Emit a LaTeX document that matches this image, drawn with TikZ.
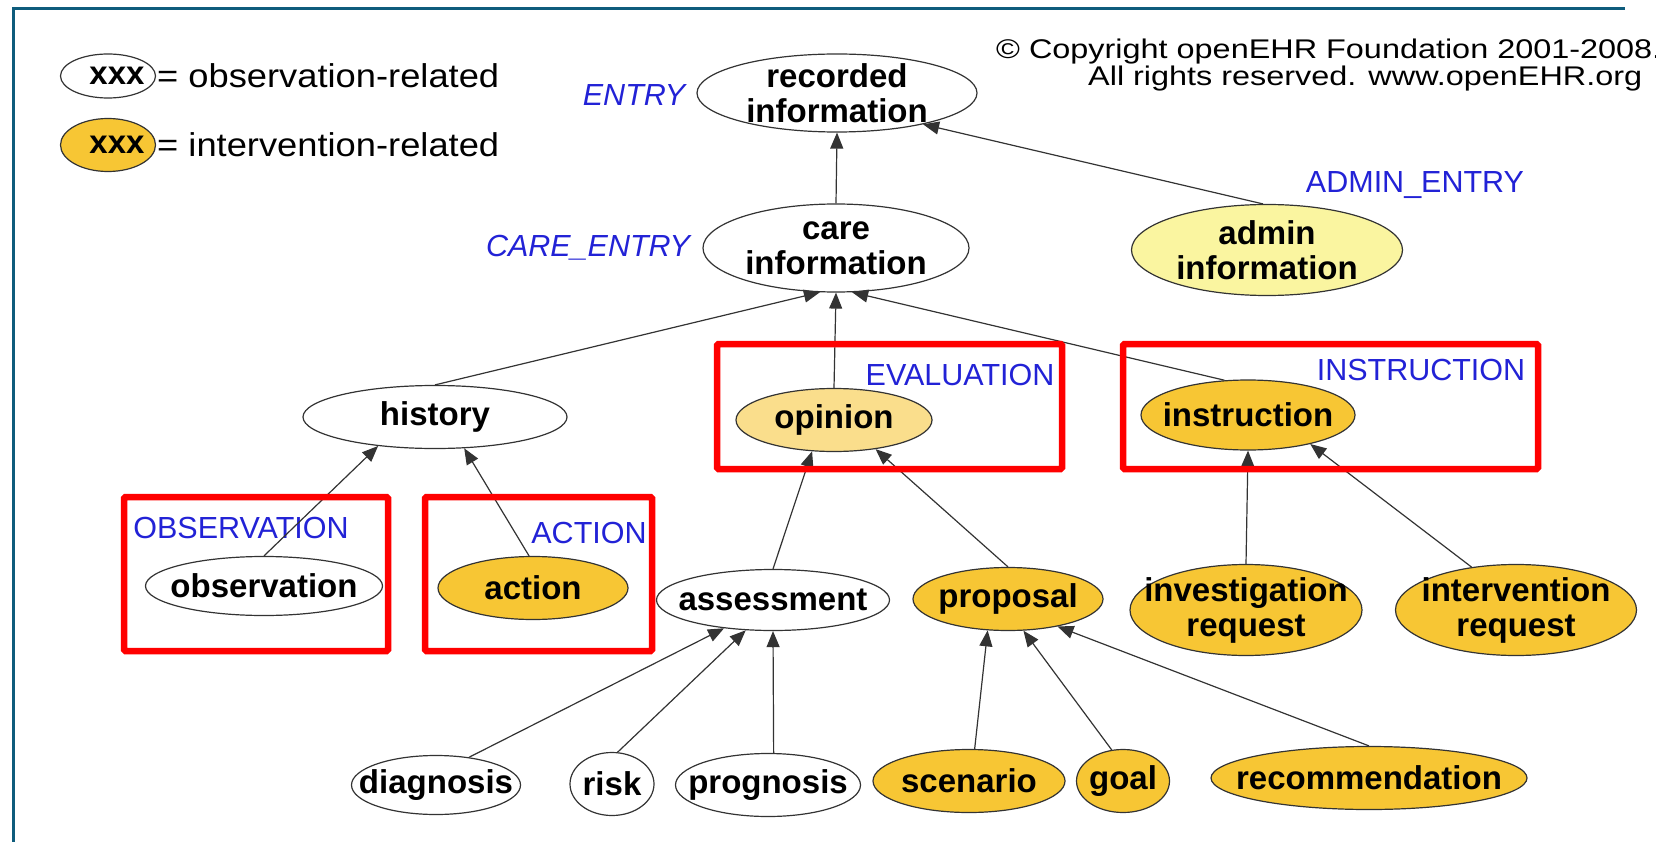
\documentclass[tikz,border=0pt]{standalone}
\usepackage{fontspec}
\setmainfont{Liberation Sans}
\newfontfamily\widesans{Liberation Sans}[FakeStretch=1.1]
\newfontfamily\widersans{Liberation Sans}[FakeStretch=1.2]
\usetikzlibrary{shapes.geometric, arrows.meta}
\definecolor{frameTeal}{RGB}{14, 92, 124}
\definecolor{ivGold}{RGB}{247, 198, 52}
\definecolor{opPeach}{RGB}{250, 222, 140}
\definecolor{adYellow}{RGB}{250, 245, 160}
\definecolor{rmBlue}{RGB}{34, 34, 214}
\definecolor{boxRed}{RGB}{255, 0, 0}

\newcommand{\ehrfont}{\bfseries\fontsize{33}{35}\selectfont}
\newcommand{\rmnamefont}{\fontsize{30.5}{33}\selectfont}
\newcommand{\legfont}{\widesans\fontsize{33}{36}\selectfont}
\newcommand{\copyfont}{\widersans\fontsize{27}{30}\selectfont}

\begin{document}
\begin{tikzpicture}[x=1pt, y=-1pt,
    cls/.style={ellipse, draw=black!80, line width=1.2pt, fill=white,
      inner xsep=-60pt, inner ysep=-15pt, align=center, font=\ehrfont},
    intv/.style={cls, fill=ivGold},
    sz/.style 2 args={minimum width=#1pt, minimum height=#2pt},
    rmname/.style={text=rmBlue, font=\rmnamefont, inner sep=0pt},
    isa/.style={draw=black!80, line width=1.2pt, -{Triangle[length=16pt, width=13pt]}},
    redbox/.style={draw=boxRed, line width=6.5pt, rounded corners=1.5pt}]
  \useasboundingbox (0,0) rectangle (1656,842);

  % frame
  \draw[frameTeal, line width=3pt] (13,842) -- (13,9) -- (1625,9);

  % legend
  \node[cls, sz={95}{44}] (legobs) at (108,76) {\hspace{18pt}xxx};
  \node[intv, sz={95}{53}] (legint) at (108,145) {\hspace{18pt}xxx};
  \node[anchor=west, inner sep=0pt, font=\legfont] (legobstxt) at (157,76) {= observation-related};
  \node[anchor=west, inner sep=0pt, font=\legfont] (leginttxt) at (157,145) {= intervention-related};

  % copyright
  \node[anchor=west, inner sep=0pt, font=\copyfont] (copy1) at (996,52)
    {\textcopyright{} Copyright openEHR Foundation 2001-2008.};
  \node[anchor=west, inner sep=0pt, font=\copyfont] (copy2) at (1088,79)
    {All rights reserved. www.openEHR.org};

  % top levels
  \node[cls, sz={280}{78}] (recorded) at (837,93) {recorded\\information};
  \node[cls, sz={266}{88}] (care) at (836,248) {care\\information};
  \node[cls, fill=adYellow, sz={271}{91}] (admin) at (1267,250) {admin\\information};
  \node[rmname, font=\rmnamefont\itshape] (entryname) at (634,95) {ENTRY};
  \node[rmname, font=\rmnamefont\itshape] (carename) at (588,248) {CARE\_ENTRY};
  \node[rmname] (adminname) at (1415,185) {ADMIN\_ENTRY};

  % middle level
  \node[cls, sz={264}{63}] (history) at (435,417) {history};
  \node[cls, fill=opPeach, sz={196}{63}] (opinion) at (834,420) {opinion};
  \node[intv, sz={214}{70}] (instruction) at (1248,415) {instruction};
  \node[rmname] (evalname) at (960,375) {EVALUATION};
  \node[rmname] (instrname) at (1421,370) {INSTRUCTION};

  \node[cls, sz={237}{59}] (observation) at (264,586) {observation};
  \node[intv, sz={190}{63}] (action) at (533,588) {action};
  \node[cls, sz={233}{61}] (assessment) at (773,600) {assessment};
  \node[intv, sz={190}{63}] (proposal) at (1008,599) {proposal};
  \node[intv, sz={232}{91}] (invreq) at (1246,610) {investigation\\request};
  \node[intv, sz={241}{91}] (intreq) at (1516,610) {intervention\\request};
  \node[rmname] (obsname) at (241,528) {OBSERVATION};
  \node[rmname] (actname) at (589,533) {ACTION};

  % bottom row
  \node[cls, sz={169}{59}] (diagnosis) at (436,785) {diagnosis};
  \node[cls, sz={84}{63}] (risk) at (612,784) {risk};
  \node[cls, sz={185}{63}] (prognosis) at (768,785) {prognosis};
  \node[intv, sz={192}{63}] (scenario) at (969,781) {scenario};
  \node[intv, sz={93}{63}] (goal) at (1123,781) {goal};
  \node[intv, sz={316}{63}] (recommendation) at (1369,778) {recommendation};

  % is-a links
  \foreach \from/\to in {care.north/recorded.270, admin.95/recorded.340,
      history.north/care.250, opinion.north/care.270, instruction.124/care.290,
      observation.north/history.207, action.97/history.313,
      assessment.north/opinion.235, proposal.north/opinion.325,
      invreq.north/instruction.270, intreq.136/instruction.335,
      diagnosis.40/assessment.210, risk.80/assessment.228, prognosis.80/assessment.270,
      scenario.80/proposal.237, goal.110/proposal.296, recommendation.north/proposal.331}
    \draw[isa] (\from) -- (\to);

  % highlighted reference-model classes
  \draw[redbox] (717,344) rectangle (1062,469);
  \draw[redbox] (1123,344) rectangle (1538,469);
  \draw[redbox] (124,497) rectangle (388,651);
  \draw[redbox] (425,497) rectangle (652,651);
\end{tikzpicture}
\end{document}
